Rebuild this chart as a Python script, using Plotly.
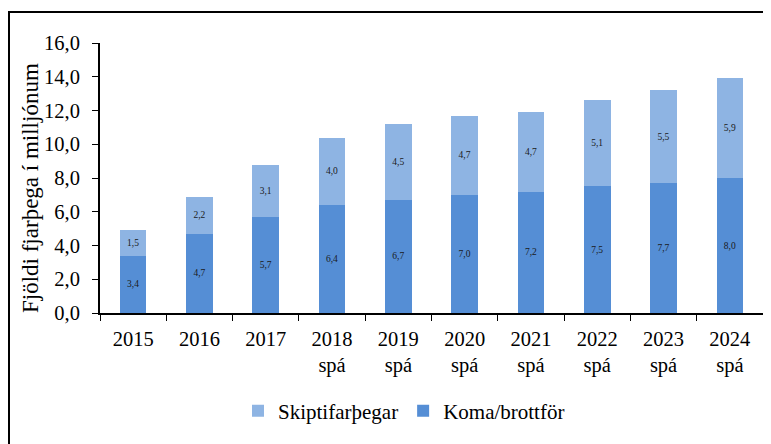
import plotly.graph_objects as go

categories = ["2015", "2016", "2017", "2018 spá", "2019 spá", "2020 spá",
              "2021 spá", "2022 spá", "2023 spá", "2024 spá"]
tick_labels = ["2015", "2016", "2017", "2018<br>spá", "2019<br>spá", "2020<br>spá",
               "2021<br>spá", "2022<br>spá", "2023<br>spá", "2024<br>spá"]
koma = [3.4, 4.7, 5.7, 6.4, 6.7, 7.0, 7.2, 7.5, 7.7, 8.0]
skipti = [1.5, 2.2, 3.1, 4.0, 4.5, 4.7, 4.7, 5.1, 5.5, 5.9]
y_ticks = [0, 2, 4, 6, 8, 10, 12, 14, 16]
y_title = "Fjöldi fjarþega í milljónum"

FONT = "Liberation Serif"

def fmt(v):
    return f"{v:.1f}".replace(".", ",")

ML, MR, MT, MB = 92, 16, 35, 139
PW = 771 - ML - MR
PH = 444 - MT - MB

fig = go.Figure()
fig.add_trace(go.Bar(
    x=categories, y=koma, name="Koma/brottför",
    marker=dict(color="#558ED5", line=dict(width=0)),
    text=[fmt(v) for v in koma], textposition="inside", insidetextanchor="middle",
    textfont=dict(family=FONT, size=9.5, color="#1a1a1a"), textangle=0,
    width=0.4,
))
fig.add_trace(go.Bar(
    x=categories, y=skipti, name="Skiptifarþegar",
    marker=dict(color="#8EB4E3", line=dict(width=0)),
    text=[fmt(v) for v in skipti], textposition="inside", insidetextanchor="middle",
    textfont=dict(family=FONT, size=9.5, color="#1a1a1a"), textangle=0,
    width=0.4,
))

fig.update_layout(
    barmode="stack",
    width=771, height=444,
    margin=dict(l=ML, r=MR, t=MT, b=MB, autoexpand=False),
    paper_bgcolor="white", plot_bgcolor="white",
    font=dict(family=FONT, size=18, color="black"),
    uniformtext=dict(mode="show", minsize=9),
    showlegend=True,
    legend=dict(orientation="h", x=(396 - ML) / PW, xanchor="center",
                y=(305 - 403) / PH, yanchor="middle",
                traceorder="reversed", font=dict(family=FONT, size=21),
                itemwidth=30),
    xaxis=dict(
        tickmode="array", tickvals=categories, ticktext=tick_labels,
        tickson="boundaries", ticks="outside", ticklen=6, tickcolor="black",
        showline=True, linecolor="black", linewidth=2, ticklabelstandoff=6,
        tickfont=dict(family=FONT, size=20.5), showgrid=False,
    ),
    yaxis=dict(
        range=[0, 16], tickmode="array", tickvals=y_ticks,
        ticktext=[fmt(v) for v in y_ticks],
        ticks="outside", ticklen=6, tickcolor="black", ticklabelstandoff=8,
        showline=True, linecolor="black", linewidth=2, showgrid=False, zeroline=False,
        tickfont=dict(family=FONT, size=20.5),
    ),
    annotations=[dict(text=y_title, textangle=-90, xref="paper", yref="paper",
                      x=(23 - ML) / PW, y=(305 - 180) / PH, xanchor="center", yanchor="middle",
                      showarrow=False, font=dict(family=FONT, size=23))],
    shapes=[dict(type="rect", xref="paper", yref="paper",
                 x0=(1 - ML) / PW, x1=(780 - ML) / PW,
                 y0=(305 - 460) / PH, y1=(305 - 4) / PH,
                 line=dict(color="black", width=2), fillcolor="rgba(0,0,0,0)", layer="below")],
)

fig.write_html("out.html")
